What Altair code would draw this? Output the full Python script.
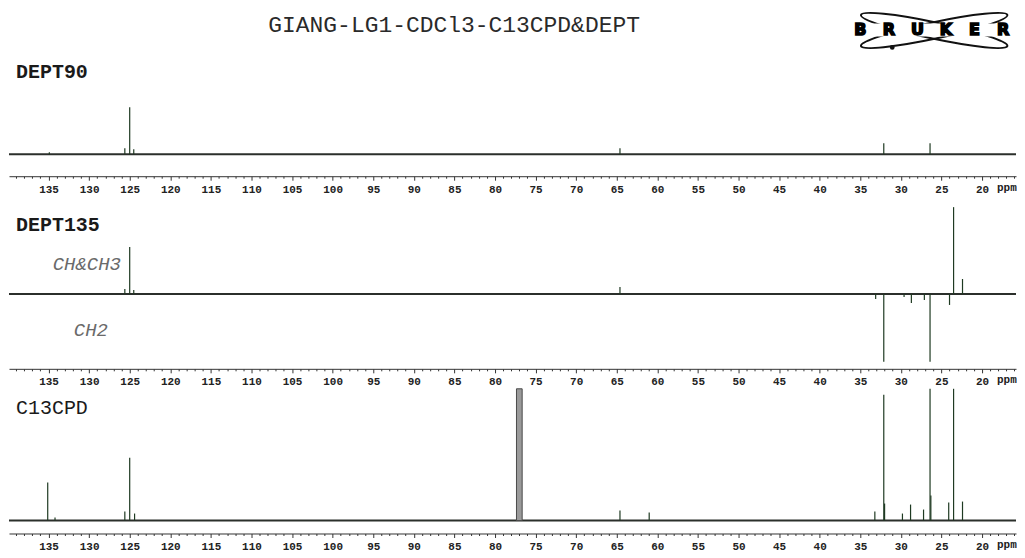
import altair as alt
import pandas as pd

# ---------------- data ----------------
ppm_left = 139.87
ppm_right = 15.81
tick_values = list(range(16, 140))   # 1 ppm ticks, labels every 5 ppm + "ppm"

# DEPT90 (heights relative to baseline)
dept90_ppm = [125.0, 125.6, 124.5, 134.9, 64.6, 32.1, 26.4]
dept90_int = [47, 6, 5, 2, 6, 11, 11]

# DEPT135 (CH & CH3 up, CH2 down)
dept135_ppm = [125.0, 125.6, 124.5, 64.6, 23.5, 22.4, 33.1, 32.1, 29.6, 28.7, 27.1, 26.4, 24.0]
dept135_int = [47, 5, 4, 7, 87, 15, -5, -68, -3, -9, -6, -68, -11]

# C13CPD (200 = off scale)
c13_ppm = [135.1, 134.2, 125.6, 125.0, 124.4, 64.6, 61.0, 33.2, 32.1, 32.0, 29.8,
           28.8, 27.2, 26.4, 26.3, 24.1, 23.5, 22.4]
c13_int = [38, 3, 9, 63, 7, 10, 8, 9, 126, 17, 7, 16, 11, 200, 25, 18, 200, 19]

# CDCl3 solvent triplet (drawn as a block, off scale)
cdcl3_lo = [76.65]
cdcl3_hi = [77.35]
cdcl3_int = [200]

title_text = "GIANG-LG1-CDCl3-C13CPD&DEPT"
panel_names = ["DEPT90", "DEPT135", "C13CPD"]
logo_letters = ["B", "R", "U", "K", "E", "R"]

# ---------------- layout / style ----------------
W = 1009
H1, H2, H3 = 166, 174, 145
YD1, YD2, YD3 = [-22, 144], [-75, 99], [-13, 132]
PEAK = "#1f3a22"
BASE = "#2b2f2b"
INK = "#1a1a1a"
MONO = "Liberation Mono"

xscale = alt.Scale(domain=[ppm_left, ppm_right], nice=False, zero=False)
xaxis = alt.Axis(
    values=tick_values, title=None, grid=False,
    labelExpr="datum.value === 17 ? 'ppm' : (datum.value % 5 === 0 ? datum.label : '')",
    tickSize={"condition": {"test": "datum.value % 5 === 0", "value": 4}, "value": 2},
    labelPadding=3, labelFont=MONO, labelFontSize=11, labelFontWeight="bold", labelColor="#222222",
    domainColor="#333333", tickColor="#333333", labelOverlap=False, labelFlush=False,
)


def spectrum(ppm, inten, ydom):
    yscale = alt.Scale(domain=ydom, nice=False, zero=False, clamp=True)
    base_df = pd.DataFrame({"a": [ppm_left], "b": [ppm_right], "h": [0]})
    base = alt.Chart(base_df).mark_rule(color=BASE, strokeWidth=2).encode(
        x=alt.X("a:Q", scale=xscale, axis=xaxis), x2="b:Q",
        y=alt.Y("h:Q", scale=yscale, axis=None))
    pk_df = pd.DataFrame({"ppm": ppm, "h": inten, "z": [0] * len(ppm)})
    peaks = alt.Chart(pk_df).mark_rule(color=PEAK, strokeWidth=1.2).encode(
        x=alt.X("ppm:Q", scale=xscale, axis=xaxis),
        y=alt.Y("h:Q", scale=yscale, axis=None), y2="z:Q")
    return base, peaks, yscale


def label(text, x, y, **kw):
    return alt.Chart(pd.DataFrame({"t": [text]})).mark_text(**kw).encode(
        x=alt.value(x), y=alt.value(y), text="t:N")


def ellipse_path(r):
    k = 0.5523
    return (f"M 1 0 C 1 {k*r:.4f} {k:.4f} {r:.4f} 0 {r:.4f} "
            f"C {-k:.4f} {r:.4f} -1 {k*r:.4f} -1 0 "
            f"C -1 {-k*r:.4f} {-k:.4f} {-r:.4f} 0 {-r:.4f} "
            f"C {k:.4f} {-r:.4f} 1 {-k*r:.4f} 1 0 Z")


one = pd.DataFrame({"k": [0]})

# ---- panel 1: DEPT90 + page title + logo ----
b1, p1, _ = spectrum(dept90_ppm, dept90_int, YD1)
logo = []
for ang in (12, 348):
    logo.append(alt.Chart(one).mark_point(shape=ellipse_path(0.11), size=150 ** 2, filled=False,
                                          stroke="#111111", strokeWidth=2, angle=ang, opacity=1).encode(
        x=alt.value(927), y=alt.value(20)))
logo.append(alt.Chart(one).mark_rect(color="white").encode(
    x=alt.value(840), x2=alt.value(1009), y=alt.value(13), y2=alt.value(26)))
logo.append(alt.Chart(one).mark_point(shape="circle", size=22, filled=True, color="#111111",
                                      opacity=1).encode(x=alt.value(885), y=alt.value(37)))
for i, ch_ in enumerate(logo_letters):
    logo.append(label(ch_, 853 + i * 28.6, 19.5, font="DejaVu Sans", fontWeight="bold", fontSize=16,
                      color="#000000", stroke="#000000", strokeWidth=1.6,
                      align="center", baseline="middle"))
title = label(title_text, 446, 15, font=MONO, fontSize=23, color="#2a2a2a",
              align="center", baseline="middle")
name1 = label(panel_names[0], 7, 62, font=MONO, fontSize=20, fontWeight="bold", color=INK,
              align="left", baseline="middle")
panel1 = alt.layer(*logo, title, name1, b1, p1).properties(width=W, height=H1)

# ---- panel 2: DEPT135 ----
b2, p2, _ = spectrum(dept135_ppm, dept135_int, YD2)
name2 = label(panel_names[1], 7, 30, font=MONO, fontSize=20, fontWeight="bold", color=INK,
              align="left", baseline="middle")
ch = label("CH&CH3", 78, 69, font=MONO, fontSize=19, fontStyle="italic", color="#6a6a6a",
           align="center", baseline="middle")
ch2 = label("CH2", 82, 135, font=MONO, fontSize=19, fontStyle="italic", color="#6a6a6a",
            align="center", baseline="middle")
panel2 = alt.layer(name2, ch, ch2, b2, p2).properties(width=W, height=H2)

# ---- panel 3: C13CPD ----
b3, p3, ys3 = spectrum(c13_ppm, c13_int, YD3)
solv_df = pd.DataFrame({"lo": cdcl3_lo, "hi": cdcl3_hi, "h": cdcl3_int, "z": [0]})
solvent = alt.Chart(solv_df).mark_rect(fill="#9a9a9a", stroke="#4a4a4a", strokeWidth=1).encode(
    x=alt.X("lo:Q", scale=xscale, axis=xaxis), x2="hi:Q",
    y=alt.Y("h:Q", scale=ys3, axis=None), y2="z:Q")
name3 = label(panel_names[2], 7, 19, font=MONO, fontSize=20, color=INK, align="left", baseline="middle")
panel3 = alt.layer(name3, b3, solvent, p3).properties(width=W, height=H3)

chart = alt.vconcat(panel1, panel2, panel3, spacing=1).properties(
    padding=0, background="white"
).configure_view(stroke=None)

chart.save("out.html", embed_options={"renderer": "svg", "actions": False})
